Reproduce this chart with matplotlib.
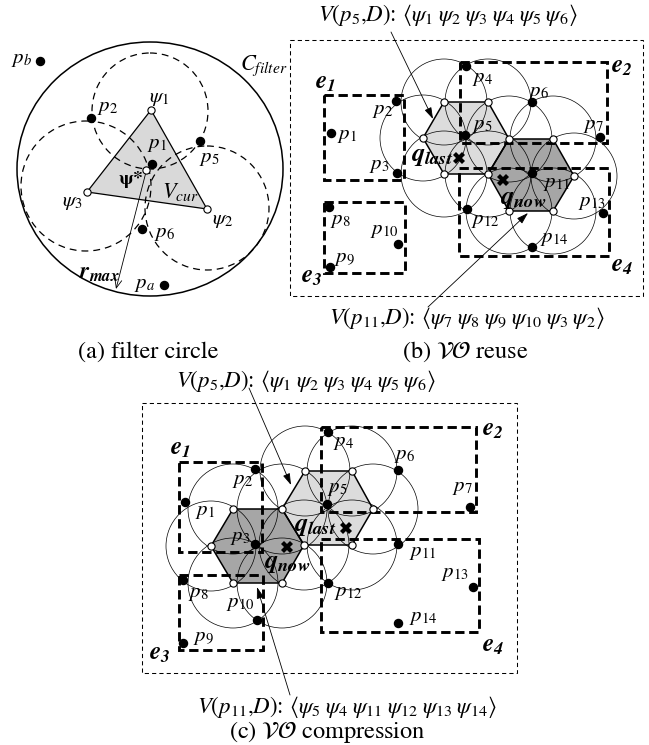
import matplotlib
matplotlib.use('Agg')
import matplotlib.pyplot as plt
from matplotlib.patches import Ellipse, Circle, Polygon, Rectangle

plt.rcParams['font.family'] = 'STIXGeneral'
plt.rcParams['mathtext.fontset'] = 'stix'

# ---------------- (a) filter circle ----------------
filter_center = (150, 169)
filter_size = (266, 254)
tri_a = [(151, 110), (207, 209), (87, 192)]          # psi1, psi2, psi3
dash_circles_a = [(150, 111, 58), (207, 208, 62), (86, 186, 65)]
pts_a = [(40, 61), (91, 118), (200, 141), (152, 164), (142, 229), (164, 285)]
pts_a_names = ['b', '2', '5', '1', '6', 'a']
pts_a_lab = [(22, 59), (108, 107), (209, 158), (157, 144), (164, 233), (145, 284)]
psi_a_names = ['1', '2', '3']
psi_a_lab = [(159, 98), (223, 220), (72, 202)]
psi_star = (146, 170)
rmax_arrow = [(146, 172), (116, 289)]

# ---------------- (b) VO reuse ----------------
outer_b = (290, 40, 643, 296)
rects_b = [(324, 95, 404, 180), (460, 62, 607, 143), (324, 202, 405, 273), (459, 168, 609, 256)]
rect_lab_b = [(325, 83), (622, 67), (312, 277), (622, 266)]
hex_light_b = [(509, 139), (488, 102), (444, 102), (423, 138), (444, 174), (488, 174)]
hex_dark_b = [(574, 176), (553, 139), (509, 139), (488, 174), (509, 211), (553, 211)]
circ_r_b = 43
pts_b = [(331, 133), (396, 101), (397, 173), (466, 66), (465, 135), (532, 102), (600, 137),
         (329, 207), (330, 267), (398, 244), (532, 173), (467, 209), (603, 213), (532, 247)]
pts_b_lab = [(347, 135), (383, 110), (379, 165), (482, 78), (482, 125), (538, 92), (593, 125),
             (340, 220), (344, 258), (384, 230), (557, 183), (485, 220), (592, 202), (554, 238)]
qlast_b, qnow_b = (459, 158), (503, 180)
qlast_lab_b, qnow_lab_b = (432, 156), (523, 199)
arrows_b = [[(391, 32), (433, 119)], [(428, 307), (528, 213)]]
text_top_b = (448, 15)
text_bot_b = (467, 318)

# ---------------- (c) VO compression ----------------
outer_c = (142, 403, 517, 673)
rects_c = [(179, 462, 262, 552), (321, 427, 476, 512), (179, 575, 263, 650), (321, 539, 479, 632)]
rect_lab_c = [(180, 449), (493, 430), (160, 654), (493, 646)]
hex_light_c = [(373, 509), (352, 471), (305, 471), (282, 509), (304, 545), (352, 545)]
hex_dark_c = [(282, 509), (233, 509), (211, 546), (233, 583), (282, 583), (304, 545)]
circ_r_c = 45
pts_c = [(185, 502), (255, 469), (255, 544), (328, 432), (327, 504), (398, 470), (470, 507),
         (183, 580), (183, 643), (257, 620), (398, 544), (328, 583), (473, 587), (398, 623)]
pts_c_lab = [(205, 511), (243, 480), (240, 537), (343, 442), (337, 488), (404, 455), (462, 487),
             (198, 593), (203, 637), (240, 603), (423, 552), (348, 592), (455, 573), (423, 617)]
qlast_c, qnow_c = (346, 528), (287, 547)
qlast_lab_c, qnow_lab_c = (315, 526), (287, 563)
arrows_c = [[(249, 388), (291, 485)], [(290, 695), (257, 587)]]
text_top_c = (306, 381)
text_bot_c = (347, 707)

captions = ['(a) filter circle', r'(b) $\mathcal{VO}$ reuse', r'(c) $\mathcal{VO}$ compression']
caption_pos = [(148, 352), (465, 352), (327, 732)]

LAB = 15

fig = plt.figure(figsize=(6.49, 7.45), dpi=100)
ax = fig.add_axes([0, 0, 1, 1])
ax.set_xlim(0, 649)
ax.set_ylim(745, 0)
ax.axis('off')


def sub(s):
    return r'\mathit{%s}' % s


def dots(pts, z=6):
    ax.plot([p[0] for p in pts], [p[1] for p in pts], 'o', ms=5.8, color='k', zorder=z)


def open_dots(pts):
    ax.plot([p[0] for p in pts], [p[1] for p in pts], 'o', ms=5.2, mfc='white', mec='k', mew=0.8, zorder=6)


def arrow(a, b, style='-|>,head_length=0.7,head_width=0.22'):
    ax.annotate('', xy=b, xytext=a,
                arrowprops=dict(arrowstyle=style, lw=0.6, color='k', shrinkA=0, shrinkB=0), zorder=5)


def dashed_box(r, lw, ls, z=4):
    ax.add_patch(Rectangle((r[0], r[1]), r[2] - r[0], r[3] - r[1], fill=False, lw=lw,
                           ls=ls, ec='k', zorder=z))


# ---- panel (a)
ax.add_patch(Ellipse(filter_center, *filter_size, fill=False, lw=1.1, ec='k', zorder=1))
ax.add_patch(Polygon(tri_a, closed=True, fc='#d9d9d9', ec='k', lw=0.9, zorder=1))
for cx, cy, r in dash_circles_a:
    ax.add_patch(Circle((cx, cy), r, fill=False, lw=0.9, ls=(0, (5.5, 4)), ec='k', zorder=2))
dots(pts_a)
open_dots(tri_a + [psi_star])
for (x, y), n in zip(pts_a_lab, pts_a_names):
    ax.text(x, y, r'$p_{%s}$' % sub(n), fontsize=LAB, ha='center', va='center', zorder=7)
for (x, y), n in zip(psi_a_lab, psi_a_names):
    ax.text(x, y, r'$\psi_{%s}$' % sub(n), fontsize=LAB, ha='center', va='center', zorder=7)
ax.text(131, 180, r'$\mathbf{\psi}$*', fontsize=LAB - 1, fontweight='bold', ha='center', va='center', zorder=7)
ax.text(180, 192, r'$V_{cur}$', fontsize=LAB + 1, ha='center', va='center', zorder=7)
ax.text(99, 273, r'$\mathbfit{r}_{\mathbfit{max}}$', fontsize=LAB + 2, ha='center', va='center', zorder=7)
ax.text(264, 66, r'$C_{filter}$', fontsize=LAB + 1, ha='center', va='center', zorder=7)
arrow(rmax_arrow[0], rmax_arrow[1], style='->,head_length=0.6,head_width=0.25')


def vo_panel(outer, rects, rect_lab, hl, hd, cr, pts, pts_lab, ql, qn, ql_lab, qn_lab, arrows):
    dashed_box(outer, 0.75, (0, (4, 3)), z=1)
    ax.add_patch(Polygon(hl, closed=True, fc='#dcdcdc', ec='none', zorder=1))
    ax.add_patch(Polygon(hd, closed=True, fc='#a6a6a6', ec='none', zorder=1))
    verts = []
    for v in hl + hd:
        if v not in verts:
            verts.append(v)
    for v in verts:
        ax.add_patch(Circle(v, cr, fill=False, lw=0.5, ec='k', zorder=2))
    ax.add_patch(Polygon(hl, closed=True, fill=False, ec='k', lw=1.1, zorder=3))
    ax.add_patch(Polygon(hd, closed=True, fill=False, ec='k', lw=1.1, zorder=3))
    for r in rects:
        dashed_box(r, 2.1, (0, (3.2, 1.6)))
    for (x, y), i in zip(rect_lab, range(1, 5)):
        ax.text(x, y, r'$\mathbfit{e}_{\mathbfit{%d}}$' % i, fontsize=LAB + 3, ha='center', va='center', zorder=7)
    dots(pts)
    open_dots(verts)
    for (x, y), i in zip(pts_lab, range(1, 15)):
        ax.text(x, y, r'$p_{%s}$' % sub(str(i)), fontsize=LAB, ha='center', va='center', zorder=7)
    ax.plot([ql[0], qn[0]], [ql[1], qn[1]], 'X', ms=8, color='k', mew=0, zorder=6)
    ax.text(*ql_lab, r'$\mathbfit{q}_{\mathbfit{last}}$', fontsize=LAB + 4, ha='center', va='center', zorder=7)
    ax.text(*qn_lab, r'$\mathbfit{q}_{\mathbfit{now}}$', fontsize=LAB + 4, ha='center', va='center', zorder=7)
    for a, b in arrows:
        arrow(a, b)


def vlist(p, ids):
    body = r'\;'.join(r'\psi_{%s}' % sub(i) for i in ids)
    return r'$V(p_{%s}{,}D)$: $\langle %s\rangle$' % (sub(p), body)


vo_panel(outer_b, rects_b, rect_lab_b, hex_light_b, hex_dark_b, circ_r_b, pts_b, pts_b_lab,
         qlast_b, qnow_b, qlast_lab_b, qnow_lab_b, arrows_b)
vo_panel(outer_c, rects_c, rect_lab_c, hex_light_c, hex_dark_c, circ_r_c, pts_c, pts_c_lab,
         qlast_c, qnow_c, qlast_lab_c, qnow_lab_c, arrows_c)

VT = 16.5
ax.text(*text_top_b, vlist('5', ['1', '2', '3', '4', '5', '6']), fontsize=VT, ha='center', va='center')
ax.text(*text_bot_b, vlist('11', ['7', '8', '9', '10', '3', '2']), fontsize=VT, ha='center', va='center')
ax.text(*text_top_c, vlist('5', ['1', '2', '3', '4', '5', '6']), fontsize=VT, ha='center', va='center')
ax.text(*text_bot_c, vlist('11', ['5', '4', '11', '12', '13', '14']), fontsize=VT, ha='center', va='center')

for (x, y), c in zip(caption_pos, captions):
    ax.text(x, y, c, fontsize=17.5, ha='center', va='center')

fig.savefig('out.png', dpi=100)
